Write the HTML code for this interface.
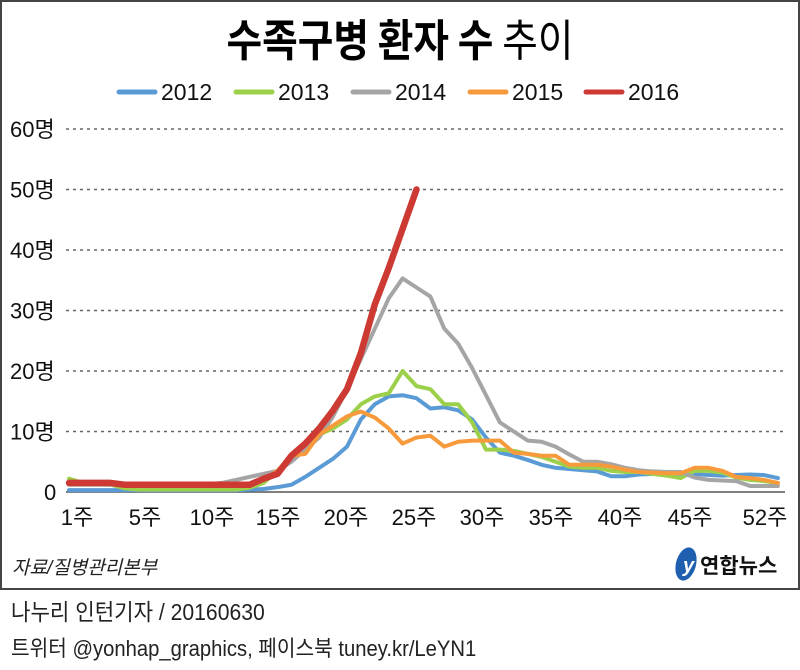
<!DOCTYPE html>
<html><head><meta charset="utf-8"><style>
body{margin:0;background:#fff;width:800px;height:665px;overflow:hidden}
svg text{font-family:"Liberation Sans Narrow","Liberation Sans","Noto Sans CJK KR",sans-serif}
</style></head><body>
<svg id="s" width="800" height="665" xmlns="http://www.w3.org/2000/svg">
<rect x="1" y="1" width="798" height="588" fill="#fff" stroke="#444" stroke-width="2"/>
<text x="400" y="56" text-anchor="middle" font-size="44" font-weight="bold" font-family="'Noto Sans CJK KR',sans-serif" style="font-family:'Noto Sans CJK KR',sans-serif" transform="translate(400 0) scale(0.88 1) translate(-400 0)">수족구병 환자 수 <tspan font-weight="normal">추이</tspan></text>
<g stroke-width="5" stroke-linecap="round">
<line x1="119" y1="92" x2="155" y2="92" stroke="#5b9bd5"/>
<line x1="236" y1="92" x2="272" y2="92" stroke="#9dd04a"/>
<line x1="353" y1="92" x2="389" y2="92" stroke="#a5a5a5"/>
<line x1="470" y1="92" x2="506" y2="92" stroke="#f79a3c"/>
<line x1="586" y1="92" x2="622" y2="92" stroke="#cc3a33"/>
</g>
<g font-size="23" fill="#111">
<text x="161" y="100">2012</text><text x="278" y="100">2013</text><text x="395" y="100">2014</text><text x="512" y="100">2015</text><text x="628" y="100">2016</text>
</g>
<g id="grid" stroke="#666" stroke-width="1.5" stroke-dasharray="3,4"></g>
<line x1="66" y1="492" x2="785" y2="492" stroke="#555" stroke-width="1.5"/>
<g id="yl" font-size="22" fill="#111"></g>
<g id="xl" font-size="22" fill="#111" text-anchor="middle"></g>
<g id="lines" fill="none" stroke-linejoin="round" stroke-linecap="round"></g>
<text x="12" y="574" font-size="19" font-style="italic" fill="#222" style="font-family:'Liberation Sans','Noto Sans CJK KR',sans-serif">자료/질병관리본부</text>
<ellipse cx="686" cy="564" rx="10" ry="17" fill="#1f5fb0" transform="rotate(15 686 564)"/>
<text x="683" y="572" font-size="20" font-style="italic" fill="#fff" font-weight="bold">y</text>
<text x="700" y="573" font-size="21" font-weight="bold" fill="#111" style="font-family:'Noto Sans CJK KR',sans-serif">연합뉴스</text>
<text x="12" y="620" font-size="23" fill="#222" style="font-family:'Liberation Sans','Noto Sans CJK KR',sans-serif" transform="scale(0.92 1)">나누리 인턴기자 / 20160630</text>
<text x="12" y="656" font-size="22" fill="#222" style="font-family:'Liberation Sans','Noto Sans CJK KR',sans-serif" transform="scale(0.92 1)">트위터 @yonhap_graphics, 페이스북 tuney.kr/LeYN1</text>
</svg>
<script>
var NS="http://www.w3.org/2000/svg";
function el(p,t,a,txt){var e=document.createElementNS(NS,t);for(var k in a)e.setAttribute(k,a[k]);if(txt)e.textContent=txt;document.getElementById(p).appendChild(e);}
function Y(v){return 492-v*6.05;}
function X(w){return 69+(w-1)*13.9;}
for(var i=1;i<=6;i++){el("grid","line",{x1:66,x2:785,y1:Y(i*10),y2:Y(i*10)});el("yl","text",{x:10,y:Y(i*10)+8},i*10+"명");}
el("yl","text",{x:44,y:500},"0");
[1,5,10,15,20,25,30,35,40,45,52].forEach(function(w,i){var xs=[77,145,212,278,346,414,482,551,620,690,765];el("xl","text",{x:xs[i],y:525},w+"주");});
var blue=[0.3,0.3,0.3,0.3,0.3,0.3,0.3,0.3,0.3,0.3,0.3,0.3,0.3,0.4,0.5,0.8,1.2,2.5,4,5.5,7.5,12,14.5,15.8,16,15.5,13.8,14,13.5,12,9,6.5,6,5.3,4.5,4,3.8,3.6,3.4,2.6,2.6,2.9,3,3.2,3,3,2.8,2.7,2.8,2.9,2.8,2.3];
var green=[2.2,1.5,1.3,1.2,0.6,0.4,0.4,0.4,0.4,0.4,0.4,0.4,0.4,0.7,1.5,3.5,6,7,9.5,10.5,12,14.5,15.8,16.3,20,17.5,17,14.5,14.5,11.5,7,7,6.8,6.3,5.8,5,4.2,4,4,3.5,3.3,3.3,3,2.7,2.3,3.5,3.5,3.2,2.4,2,1.8,1.5];
var gray=[1.2,1.2,1.2,1.2,1.2,1.2,1.2,1.2,1.2,1.3,1.5,2,2.5,3,3.5,5,7,9,12.5,17,22,27,32,35.3,33.8,32.3,27,24.5,20.5,16,11.5,10,8.5,8.3,7.5,6.2,5,5,4.6,4,3.6,3.4,3.3,3.3,2.4,2,1.9,1.8,1,1,1];
gray=[1.2].concat(gray);gray=gray.slice(0,52);
// fix gray alignment: peak at week 25
gray=[1.2,1.2,1.2,1.2,1.2,1.2,1.2,1.2,1.2,1.3,1.5,2,2.5,3,3.5,5,7,9,12.5,17,22,27,32,35.3,33.8,32.3,27,24.5,20.5,16,11.5,10,8.5,8.3,7.5,6.2,5,5,4.6,4,3.6,3.4,3.3,3.3,2.4,2,1.9,1.8,1,1,1];
gray.unshift(1.2);
var orange=[1.3,1.3,1.3,1.3,1.3,1.3,1.3,1.3,1.3,1.3,1.3,1.3,1.3,1.3,2,3.5,6,6.3,9.5,11,12.5,13.3,12.3,10.5,8,9,9.3,7.5,8.3,8.5,8.5,8.5,6.5,6.3,6,6,4.5,4.5,4.5,4.2,3.7,3.3,3.2,3.1,3.1,4,4,3.5,2.5,2.3,2,1.5];
var red=[1.5,1.5,1.5,1.5,1.2,1.2,1.2,1.2,1.2,1.2,1.2,1.2,1.2,1.2,2.2,3,6,8,10.5,13.5,17,23,31,37,43.5,50];
function line(d,c,w){el("lines","polyline",{points:d.map(function(v,i){return X(i+1)+","+Y(v);}).join(" "),stroke:c,"stroke-width":w});}
line(blue,"#5b9bd5",4);line(green,"#9dd04a",4);line(gray,"#a5a5a5",4);line(orange,"#f79a3c",4);line(red,"#cc3a33",6.5);
</script>
</body></html>
